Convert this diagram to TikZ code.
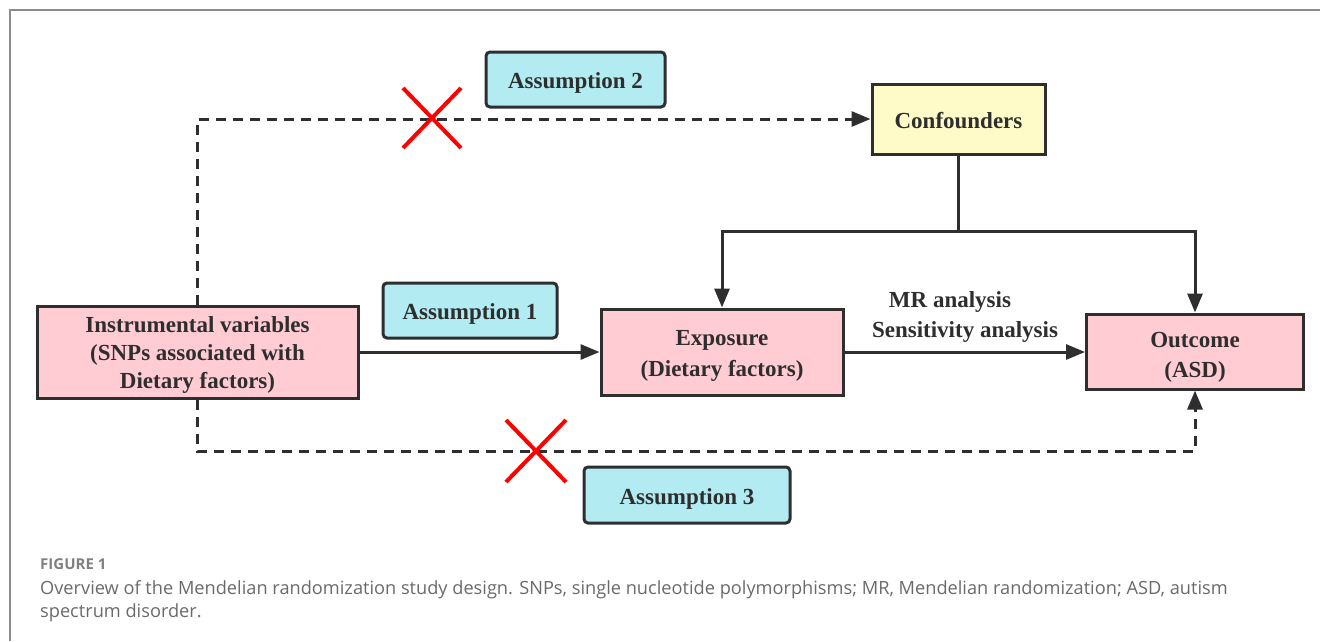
\documentclass[tikz,border=0pt]{standalone}
\usepackage{fontspec}
\setmainfont{Liberation Serif}
\newfontfamily\capfont{Open Sans}
\usetikzlibrary{arrows.meta}
\definecolor{pinkfill}{HTML}{FFCCD3}
\definecolor{cyanfill}{HTML}{B2EBF2}
\definecolor{yellowfill}{HTML}{FFFBC8}
\definecolor{edge}{HTML}{2E2E2E}
\definecolor{capgray}{HTML}{6A6A6A}
\definecolor{framegray}{HTML}{8C8C8C}
\tikzset{
  box/.style={draw=edge, line width=3pt, fill=pinkfill, align=center, inner sep=0pt,
    font=\fontsize{23}{28}\selectfont\bfseries, text=edge},
  oneline/.style={text height=18pt, text depth=0pt},
  assum/.style={box, oneline, fill=cyanfill, rounded corners=4pt},
  conf/.style={box, oneline, fill=yellowfill},
  link/.style={draw=edge, line width=3pt, -{Triangle[length=19pt,width=15pt]}},
  dlink/.style={link, dash pattern=on 10pt off 7pt},
  cross/.style={draw=red, line width=4pt},
  lbl/.style={font=\fontsize{23}{28}\selectfont\bfseries, text=edge, inner sep=0pt},
  captext/.style={font=\capfont\fontsize{18.2}{22}\selectfont, text=capgray, inner sep=0pt, anchor=base west}
}
\begin{document}
\begin{tikzpicture}[x=1pt,y=-1pt]
\useasboundingbox (0,0) rectangle (1320,641);
\draw[framegray, line width=2pt] (1320,9.5) -- (9.5,9.5) -- (9.5,641);

\node[box, minimum width=321pt, minimum height=92pt] (iv) at (197.5,352)
  {\rule{0pt}{22pt}Instrumental variables\\(SNPs associated with\\Dietary factors)};
\node[assum, minimum width=174pt, minimum height=55pt] (a1) at (470,310.5) {Assumption 1};
\node[box, minimum width=242pt, minimum height=86pt, font=\fontsize{23}{31}\selectfont\bfseries] (exp) at (722,352) {\rule{0pt}{22.5pt}Exposure\\(Dietary factors)};
\node[box, minimum width=217pt, minimum height=75pt, font=\fontsize{23}{30}\selectfont\bfseries] (out) at (1195,351.5) {\rule{0pt}{27.5pt}Outcome\\(ASD)};
\node[conf, minimum width=173pt, minimum height=70pt] (cf) at (958.5,119) {Confounders};
\node[assum, minimum width=179pt, minimum height=55pt] (a2) at (575.5,79.5) {Assumption 2};
\node[assum, minimum width=206pt, minimum height=56pt] (a3) at (687,495) {Assumption 3};

\node[lbl] (mr) at (950,302) {MR analysis};
\node[lbl] (sa) at (965,332) {Sensitivity analysis};

% solid links
\draw[link] (iv.east) -- (exp.west);
\draw[link] (exp.east) -- (out.west |- exp.east);
\coordinate (j) at (cf.south |- 0,231);
\draw[edge, line width=3pt] (cf.south) -- (j);
\draw[link] (j) -| (exp.north);
\draw[link] (j) -| (out.north);

% dashed links
\draw[dlink] (iv.north) -- (iv.north |- cf.west) -- (cf.west);
\coordinate (b) at (197.5,451);
\draw[dlink] (iv.south) -- (b) -| (out.south);

% red crosses
\coordinate (x1) at (432,118);
\coordinate (x2) at (536,451);
\draw[cross] (x1) ++(-29,-30) -- ++(58,60);
\draw[cross] (x1) ++(29,-30) -- ++(-58,60);
\draw[cross] (x2) ++(-30,-31) -- ++(60,62);
\draw[cross] (x2) ++(30,-31) -- ++(-60,62);

% caption
\node[captext, font=\capfont\fontsize{15}{18}\selectfont\bfseries, text=capgray!85] (fig) at (40,569) {FIGURE 1};
\node[captext] (c1) at (40,594) {Overview of the Mendelian randomization study design. SNPs, single nucleotide polymorphisms; MR, Mendelian randomization; ASD, autism};
\node[captext] (c2) at (40,617) {spectrum disorder.};
\end{tikzpicture}
\end{document}
